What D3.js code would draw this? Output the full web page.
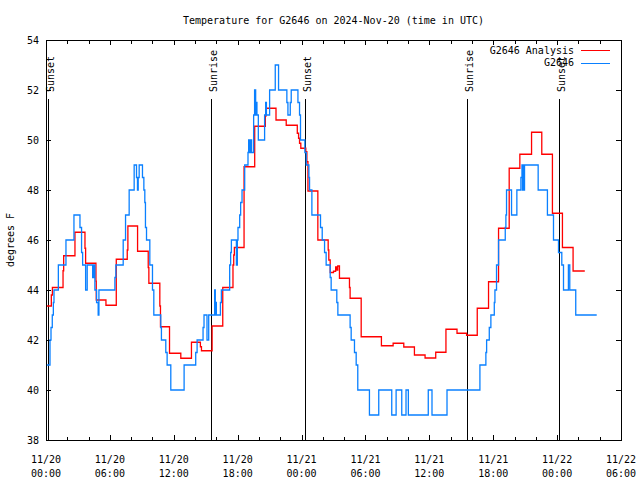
<!DOCTYPE html>
<html><head><meta charset="utf-8">
<script src="https://cdn.jsdelivr.net/npm/d3@7"></script>
<style>
body{margin:0;background:#fff;}
svg{display:block;}
text{font-family:"DejaVu Sans Mono",monospace;font-size:10px;fill:#000;}
</style></head>
<body>
<svg id="c" width="640" height="480"></svg>
<script>
// ---- data (hours after 2024-11-20 00:00 UTC, degrees F) ----
const title = "Temperature for G2646 on 2024-Nov-20 (time in UTC)";
const yLabel = "degrees F";
const seriesNames = ["G2646 Analysis", "G2646"];
const seriesColors = ["#ff0000", "#0a80ff"];
const yTicks = [38, 40, 42, 44, 46, 48, 50, 52, 54];
const xTickHours = [0, 6, 12, 18, 24, 30, 36, 42, 48, 54];
const sunEventHours = [0.22, 15.5, 24.31, 39.5, 48.22];
const sunEventNames = ["Sunset", "Sunrise", "Sunset", "Sunrise", "Sunset"];

const analysis = [
 [0.08,43.36],[0.5,43.8],[0.6,44.1],[1.6,44.77],[1.66,45.37],[2.72,46.31],[3.66,45.67],[3.72,45.07],
 [4.69,44.35],[4.72,43.6],[5.63,43.39],[6.6,45.23],[7.63,45.6],[7.69,46.56],[8.6,45.55],[9.6,44.9],
 [9.66,44.27],[10.69,43.36],[10.75,42.53],[11.6,41.47],[12.66,41.27],[13.66,41.91],[14.5,41.73],
 [14.6,41.57],[15.6,42.56],[16.6,44.1],[17.56,45.0],[17.63,45.4],[17.69,45.7],[18.6,48.93],
 [19.6,50.55],[20.6,50.96],[20.66,51.27],[21.6,50.8],[22.56,50.59],[23.6,50.27],[23.72,50.07],
 [23.81,49.87],[23.93,49.67],[24.4,49.53],[24.5,49.13],[24.6,47.96],[25.53,46.0],[26.5,45.6],
 [26.56,45.2],[26.69,44.7],[27.0,44.75],[27.2,44.92],[27.3,44.8],[27.4,44.96],[27.56,44.47],
 [28.5,44.1],[28.56,43.67],[29.6,42.13],[31.5,41.77],[32.6,41.87],[33.6,41.72],[34.6,41.4],
 [35.6,41.28],[36.6,41.51],[37.56,42.43],[38.6,42.27],[39.5,42.19],[40.5,43.27],[41.56,44.33],
 [42.5,46.47],[43.5,48.87],[44.5,49.43],[45.6,50.31],[46.56,49.43],[47.56,47.07],[48.5,45.7],
 [49.5,44.76],[50.6,44.76]
];
const observed = [
 [0.08,41],[0.375,42],[0.47,42.5],[0.59,43],[0.69,43.5],[0.75,44],[1.16,45],[1.875,46],[2.625,47],
 [3.19,46.5],[3.34,45.5],[3.44,45],[3.72,44],[3.87,45],[4.38,44.5],[4.5,45],[4.59,44],[4.75,43.5],
 [4.9,43],[4.97,44],[6.47,44.5],[6.56,45],[7.25,46],[7.47,47],[7.81,48],[8.28,49],[8.5,48.5],
 [8.59,48],[8.66,48.5],[8.75,49],[9.06,48.5],[9.19,48],[9.28,47.5],[9.34,46.5],[9.44,46],[9.75,45],
 [10.0,44],[10.125,43],[10.78,42.5],[10.84,42],[11.25,41.5],[11.375,41],[11.72,40],[12.97,41],
 [14.06,41.5],[14.19,42],[14.75,42.5],[14.84,43],[15.12,42],[15.28,43],[15.84,44],[15.9,43],
 [15.94,43.5],[16.0,43],[16.38,43.5],[16.47,44],[17.25,45],[17.34,45.5],[17.41,46],[17.88,45],
 [17.97,46],[18.03,46.5],[18.19,47],[18.28,47.5],[18.41,48],[18.66,49],[18.97,49.5],[19.03,50],
 [19.12,49.5],[19.22,50],[19.31,49.5],[19.5,51],[19.59,52],[19.69,51],[19.75,51.5],[19.81,51],
 [19.94,50],[20.53,51],[20.63,51.5],[20.7,51],[21.0,52],[21.53,53],[21.84,52],[22.62,51.5],
 [22.72,51],[22.94,51.5],[23.03,52],[23.66,51.5],[23.81,51],[23.9,50],[24.31,49.5],[24.44,49],
 [24.69,48.5],[24.75,48],[24.97,47],[25.78,46.5],[25.94,46],[26.16,45.5],[26.31,45],[26.69,44.5],
 [26.78,44],[27.31,43.5],[27.41,43],[28.56,42.5],[28.66,42],[28.97,41.5],[29.13,41],[29.28,40],
 [30.375,39],[31.25,40],[32.47,39],[32.88,40],[33.41,39],[33.81,40],[34.03,39],[35.9,40],[36.25,39],
 [37.66,40],[40.75,41],[41.31,41.5],[41.38,42],[41.63,42.5],[41.78,43],[42.1,43.5],[42.16,44],
 [42.31,45],[42.5,46],[43.13,46.5],[43.19,47],[43.25,48],[43.72,47],[44.22,48],[44.6,48.5],
 [44.7,49],[44.75,48],[44.82,49],[44.88,48],[44.94,49],[46.22,48],[47.09,47],[47.66,46],
 [48.13,45.5],[48.44,45],[48.6,44],[49.06,45],[49.19,44],[49.75,43],[51.72,43]
];

// ---- layout ----
const L = 46, R = 621, T = 40, B = 440;
const t0 = Date.UTC(2024, 10, 20, 0, 0);
const toDate = h => new Date(t0 + h * 3600e3);

const svg = d3.select("#c");
const x = d3.scaleUtc().domain([toDate(0), toDate(54)]).range([L, R]);
const y = d3.scaleLinear().domain([38, 54]).range([B, T]);

svg.append("text").attr("x", (L + R) / 2).attr("y", 24).attr("text-anchor", "middle").text(title);
svg.append("text").attr("transform", `translate(14,240) rotate(-90)`).attr("text-anchor", "middle").text(yLabel);

const g = svg.append("g").attr("shape-rendering", "crispEdges");

const minorHours = d3.range(0, 55, 2);
minorHours.forEach(h => {
  const xx = Math.round(x(toDate(h))) + 0.5;
  g.append("line").attr("x1", xx).attr("x2", xx).attr("y1", B).attr("y2", B - 3).attr("stroke", "#000");
  g.append("line").attr("x1", xx).attr("x2", xx).attr("y1", T).attr("y2", T + 4).attr("stroke", "#000");
});
xTickHours.forEach(h => {
  const xx = Math.round(x(toDate(h))) + 0.5;
  g.append("line").attr("x1", xx).attr("x2", xx).attr("y1", B).attr("y2", B - 5).attr("stroke", "#000");
  g.append("line").attr("x1", xx).attr("x2", xx).attr("y1", T).attr("y2", T + 5).attr("stroke", "#000");
  const d = toDate(h);
  svg.append("text").attr("x", x(d)).attr("y", 463).attr("text-anchor", "middle").text(d3.utcFormat("%m/%d")(d));
  svg.append("text").attr("x", x(d)).attr("y", 477).attr("text-anchor", "middle").text(d3.utcFormat("%H:%M")(d));
});
yTicks.forEach(v => {
  const yy = Math.round(y(v)) + 0.5;
  g.append("line").attr("x1", L).attr("x2", L + 5).attr("y1", yy).attr("y2", yy).attr("stroke", "#000");
  g.append("line").attr("x1", R).attr("x2", R - 5).attr("y1", yy).attr("y2", yy).attr("stroke", "#000");
  svg.append("text").attr("x", 39).attr("y", y(v)).attr("dy", "0.35em").attr("text-anchor", "end").text(v);
});

sunEventHours.forEach((h, i) => {
  const xx = Math.round(x(toDate(h))) + 0.5;
  g.append("line").attr("x1", xx).attr("x2", xx).attr("y1", 99).attr("y2", B).attr("stroke", "#000");
  svg.append("text").attr("transform", `translate(${xx + 5},92) rotate(-90)`).attr("text-anchor", "start").text(sunEventNames[i]);
});

const line = d3.line().x(d => x(toDate(d[0]))).y(d => y(d[1])).curve(d3.curveStepAfter);
[analysis, observed].forEach((data, i) => {
  svg.append("path").attr("d", line(data)).attr("fill", "none").attr("stroke", seriesColors[i]).attr("stroke-width", 1.3);
});

g.append("rect").attr("x", L + 0.5).attr("y", T + 0.5).attr("width", R - L).attr("height", B - T).attr("fill", "none").attr("stroke", "#000");

seriesNames.forEach((n, i) => {
  const ly = 50 + i * 12.5;
  svg.append("text").attr("x", 574).attr("y", ly).attr("dy", "0.35em").attr("text-anchor", "end").text(n);
  g.append("line").attr("x1", 581).attr("x2", 610).attr("y1", Math.round(ly) + 0.5).attr("y2", Math.round(ly) + 0.5)
    .attr("stroke", seriesColors[i]).attr("stroke-width", 1);
});
</script>
</body></html>
